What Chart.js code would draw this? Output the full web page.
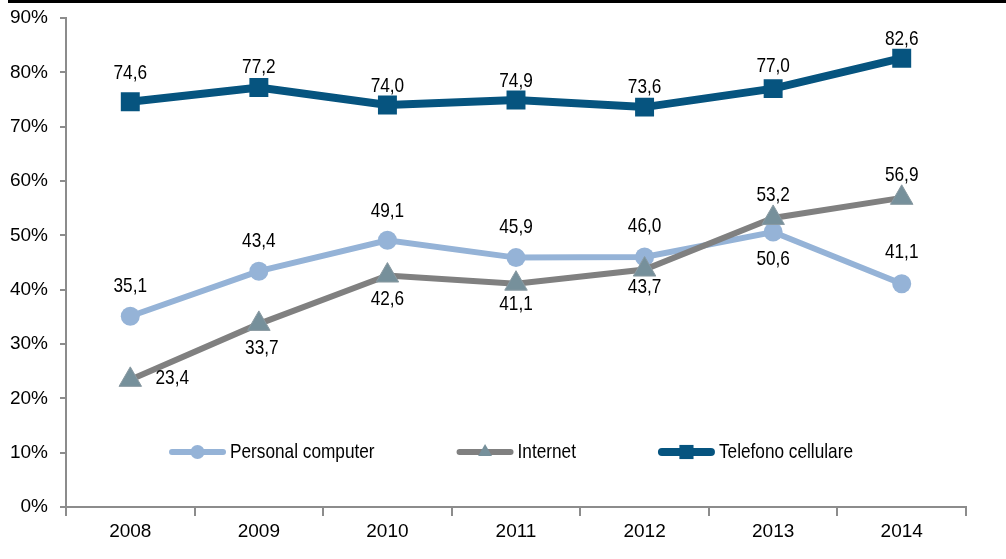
<!DOCTYPE html>
<html>
<head>
<meta charset="utf-8">
<script src="https://cdn.jsdelivr.net/npm/chart.js@4.4.0/dist/chart.umd.min.js"></script>
<style>
  html, body { margin: 0; padding: 0; background: #fff; }
  #wrap { width: 1006px; height: 559px; position: relative; }
</style>
</head>
<body>
<div id="wrap"><canvas id="grafico"></canvas></div>
<script>
const anni = ['2008', '2009', '2010', '2011', '2012', '2013', '2014'];
const personalComputer = [35.1, 43.4, 49.1, 45.9, 46.0, 50.6, 41.1];
const internet = [23.4, 33.7, 42.6, 41.1, 43.7, 53.2, 56.9];
const telefonoCellulare = [74.6, 77.2, 74.0, 74.9, 73.6, 77.0, 82.6];
const tickY = [0, 10, 20, 30, 40, 50, 60, 70, 80, 90];

// spostamento delle etichette rispetto al punto (px)
const etichettePC = [[0, -30], [0, -30], [0, -29], [0, -30], [0, -31], [0, 27], [0, -31]];
const etichetteInternet = [[42, -2], [3, 24], [0, 24], [0, 21], [0, 18], [0, -23], [0, -23]];
const etichetteTelefono = [[0, -28], [0, -20], [0, -19], [0, -19], [0, -20], [0, -22], [0, -19]];

const FONT = "'Liberation Sans', Arial, sans-serif";
const STRETTO = 0.82; // simula un carattere "narrow"

const colori = {
  pc: '#95b3d7',
  internet: '#808080',
  triangolo: '#76909b',
  telefono: '#06547f',
  asse: '#8c8c8c'
};

function testoStretto(ctx, testo, x, y) {
  ctx.save();
  ctx.translate(x, y);
  ctx.scale(STRETTO, 1);
  ctx.fillText(testo, 0, 0);
  ctx.restore();
}

const etichettePlugin = {
  id: 'etichette',
  afterDatasetsDraw(chart) {
    const ctx = chart.ctx;
    const offsets = [etichettePC, etichetteInternet, etichetteTelefono];
    ctx.save();
    ctx.font = '21px ' + FONT;
    ctx.fillStyle = '#000';
    ctx.textAlign = 'center';
    ctx.textBaseline = 'middle';
    chart.data.datasets.forEach((ds, i) => {
      const meta = chart.getDatasetMeta(i);
      meta.data.forEach((pt, j) => {
        const testo = ds.data[j].toFixed(1).replace('.', ',');
        const o = offsets[i][j];
        testoStretto(ctx, testo, pt.x + o[0], pt.y + o[1]);
      });
    });
    ctx.restore();
  }
};

const legendaPlugin = {
  id: 'legenda',
  afterDatasetsDraw(chart) {
    const ctx = chart.ctx;
    const area = chart.chartArea;
    const y = area.bottom - 55;
    ctx.save();
    ctx.font = '21px ' + FONT;
    const voci = chart.data.datasets.map(ds => ({
      testo: ds.label,
      colore: ds.borderColor,
      spessore: ds.borderWidth,
      stile: ds.pointStyle,
      fill: ds.pointBackgroundColor,
      r: ds.legendRadius
    }));
    const lungLinea = 57, gap = 4, spazio = 82;
    let totale = 0;
    voci.forEach((v, i) => {
      v.w = ctx.measureText(v.testo).width * STRETTO;
      totale += lungLinea + gap + v.w + (i < voci.length - 1 ? spazio : 0);
    });
    let x = (area.left + area.right) / 2 - totale / 2 - 5;
    voci.forEach(v => {
      ctx.strokeStyle = v.colore;
      ctx.lineWidth = v.spessore;
      ctx.lineCap = 'round';
      ctx.beginPath();
      ctx.moveTo(x + v.spessore / 2, y);
      ctx.lineTo(x + lungLinea - v.spessore / 2, y);
      ctx.stroke();
      ctx.fillStyle = v.fill;
      Chart.helpers.drawPoint(ctx, { pointStyle: v.stile, radius: v.r, borderWidth: 0, rotation: 0 }, x + lungLinea / 2, y);
      ctx.fillStyle = '#000';
      ctx.textAlign = 'left';
      ctx.textBaseline = 'middle';
      testoStretto(ctx, v.testo, x + lungLinea + gap, y);
      x += lungLinea + gap + v.w + spazio;
    });
    ctx.restore();
  }
};

const bordoPlugin = {
  id: 'bordo',
  beforeDraw(chart) {
    const ctx = chart.ctx;
    ctx.save();
    ctx.fillStyle = '#fff';
    ctx.fillRect(0, 0, chart.width, chart.height);
    ctx.fillStyle = '#000';
    ctx.fillRect(8, 0, chart.width - 8, 3);
    ctx.restore();
  }
};

new Chart(document.getElementById('grafico'), {
  type: 'line',
  data: {
    labels: anni,
    datasets: [
      {
        label: 'Personal computer',
        data: personalComputer,
        borderColor: colori.pc,
        borderWidth: 6,
        pointStyle: 'circle',
        pointRadius: 9.5,
        pointBackgroundColor: colori.pc,
        pointBorderWidth: 0,
        legendRadius: 7,
        order: 3
      },
      {
        label: 'Internet',
        data: internet,
        borderColor: colori.internet,
        borderWidth: 6,
        pointStyle: 'triangle',
        pointRadius: 13,
        pointBackgroundColor: colori.triangolo,
        pointBorderColor: '#8a9aa2',
        pointBorderWidth: 1,
        legendRadius: 8,
        order: 2
      },
      {
        label: 'Telefono cellulare',
        data: telefonoCellulare,
        borderColor: colori.telefono,
        borderWidth: 8,
        pointStyle: 'rect',
        pointRadius: 13.4,
        pointBackgroundColor: colori.telefono,
        pointBorderWidth: 0,
        legendRadius: 10,
        order: 1
      }
    ]
  },
  options: {
    responsive: true,
    maintainAspectRatio: false,
    animation: false,
    devicePixelRatio: 1,
    layout: { padding: { top: 18, right: 40, left: 0, bottom: 0 } },
    plugins: {
      legend: { display: false },
      tooltip: { enabled: false }
    },
    elements: { line: { tension: 0 } },
    scales: {
      x: {
        offset: true,
        grid: {
          offset: true,
          drawOnChartArea: false,
          drawTicks: true,
          tickLength: 9,
          color: colori.asse,
          lineWidth: 2
        },
        border: { color: colori.asse, width: 2 },
        ticks: {
          color: '#000',
          font: { family: FONT, size: 19 },
          padding: 4,
          maxRotation: 0
        },
        afterFit(scale) { scale.height = 52; }
      },
      y: {
        min: 0,
        max: 90,
        afterBuildTicks(scale) { scale.ticks = tickY.map(v => ({ value: v })); },
        grid: {
          drawOnChartArea: false,
          drawTicks: true,
          tickLength: 6,
          color: colori.asse,
          lineWidth: 2
        },
        border: { color: colori.asse, width: 2 },
        ticks: {
          color: '#000',
          font: { family: FONT, size: 19 },
          padding: 12,
          callback: v => v + '%'
        },
        afterFit(scale) {
          scale.width = 66;
          scale.paddingTop = 0;
          scale.paddingBottom = 0;
        }
      }
    }
  },
  plugins: [bordoPlugin, etichettePlugin, legendaPlugin]
});
</script>
</body>
</html>
